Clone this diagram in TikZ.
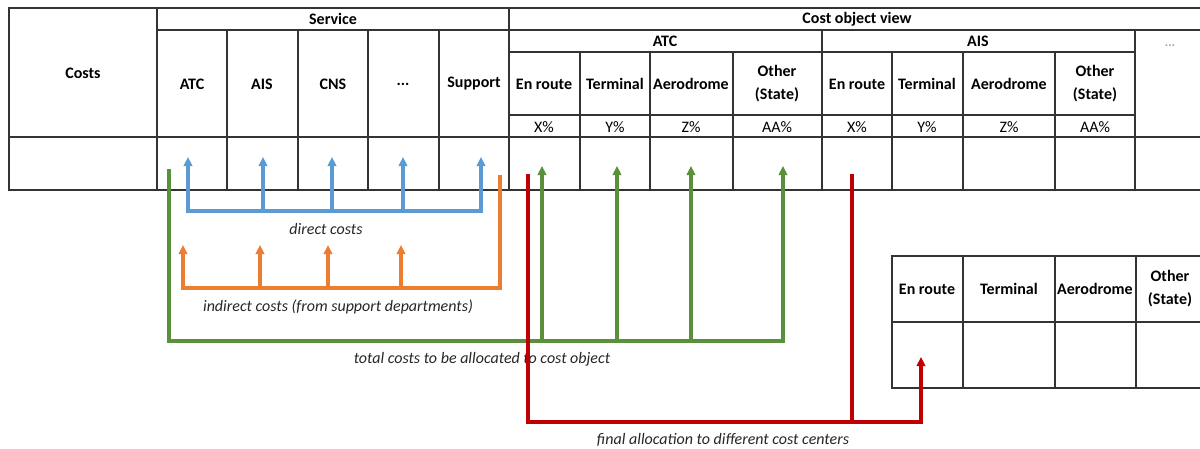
\documentclass[tikz,border=0pt]{standalone}
\usepackage{fontspec}
\setmainfont{Carlito}
\usetikzlibrary{arrows.meta}
\definecolor{gridc}{HTML}{333333}
\definecolor{blu}{HTML}{5B9BD5}
\definecolor{org}{HTML}{ED7D31}
\definecolor{grn}{HTML}{5A8F3C}
\definecolor{rd}{HTML}{C00000}
\begin{document}
\begin{tikzpicture}[x=1pt,y=-1pt,
 grid/.style={draw=gridc,line width=1.4pt,line cap=rect},
 hd/.style={font=\fontsize{16}{23}\selectfont\bfseries,text=black,align=center,inner sep=0},
 pct/.style={font=\fontsize{16}{19}\selectfont,text=black,inner sep=0},
 lbl/.style={font=\fontsize{16}{19}\selectfont\itshape,text=black!85,inner sep=0},
 flow/.style={line width=3.1pt,-{Triangle[length=9pt,width=8.5pt]}},
 plain/.style={line width=3.1pt}]
\useasboundingbox (0,0) rectangle (1200,448);
% main table
\draw[grid] (9,8) -- (1200,8);
\draw[grid] (157,30) -- (1200,30);
\draw[grid] (509,52) -- (1135,52);
\draw[grid] (509,115) -- (1135,115);
\draw[grid] (9,137) -- (1200,137);
\draw[grid] (9,190) -- (1200,190);
\foreach \x in {9,157,509} \draw[grid] (\x,8) -- (\x,190);
\foreach \x in {227,298,368,439,822,1135} \draw[grid] (\x,30) -- (\x,190);
\foreach \x in {580,650,733,892,963,1055} \draw[grid] (\x,52) -- (\x,190);
% small table
\foreach \y in {256,322,388} \draw[grid] (892,\y) -- (1200,\y);
\foreach \x in {892,963,1055,1136} \draw[grid] (\x,256) -- (\x,388);
% header texts
\node[hd] (costs) at (83,73) {Costs};
\node[hd] (service) at (333,19) {Service};
\node[hd] (sATC) at (192,84) {ATC};
\node[hd] (sAIS) at (262,84) {AIS};
\node[hd] (sCNS) at (333,84) {CNS};
\node[hd] (sDots) at (403,84) {...};
\node[hd] (sSup) at (474,84) {Support};
\node[hd] (cov) at (857,19) {Cost object view};
\node[hd] (cATC) at (665,41) {ATC};
\node[hd] (cAIS) at (978,41) {AIS};
\node[hd] (a1) at (544,84) {En route};
\node[hd] (a2) at (615,84) {Terminal};
\node[hd] (a3) at (691,84) {Aerodrome};
\node[hd] (a4) at (777,84) {Other\\(State)};
\node[hd] (b1) at (857,84) {En route};
\node[hd] (b2) at (927,84) {Terminal};
\node[hd] (b3) at (1009,84) {Aerodrome};
\node[hd] (b4) at (1095,84) {Other\\(State)};
\node[pct] (pa1) at (544,127) {X\%};
\node[pct] (pa2) at (615,127) {Y\%};
\node[pct] (pa3) at (691,127) {Z\%};
\node[pct] (pa4) at (777,127) {AA\%};
\node[pct] (pb1) at (857,127) {X\%};
\node[pct] (pb2) at (927,127) {Y\%};
\node[pct] (pb3) at (1009,127) {Z\%};
\node[pct] (pb4) at (1095,127) {AA\%};
\node[hd,text=gray!70,font=\fontsize{13}{15}\selectfont\bfseries] (cDots) at (1170,46) {...};
\node[hd] (d1) at (927,289) {En route};
\node[hd] (d2) at (1009,289) {Terminal};
\node[hd] (d3) at (1095,289) {Aerodrome};
\node[hd] (d4) at (1170,289) {Other\\(State)};
% labels
\node[lbl] (ldirect) at (326,229) {direct costs};
\node[lbl] (lindirect) at (338,307) {indirect costs (from support departments)};
\node[lbl] (ltotal) at (482,359) {total costs to be allocated to cost object};
\node[lbl] (lfinal) at (723,440) {final allocation to different cost centers};
% blue: direct costs
\foreach \i/\x in {1/188,2/263,3/332,4/403,5/481}{
  \coordinate (bt\i) at (\x,157);
  \coordinate (bb\i) at (\x,211);
}
\draw[flow,blu,{Triangle[length=9pt,width=8.5pt]}-{Triangle[length=9pt,width=8.5pt]}] (bt1) -- (bb1) -- (bb5) -- (bt5);
\foreach \i in {2,3,4} \draw[flow,blu] (bb\i) -- (bt\i);
% orange: indirect costs
\coordinate (os) at (500,175);
\coordinate (oc) at (500,288);
\foreach \i/\x in {1/183,2/260,3/328,4/401}{
  \coordinate (ot\i) at (\x,245);
  \coordinate (ob\i) at (\x,288);
}
\draw[flow,org] (os) -- (oc) -- (ob1) -- (ot1);
\foreach \i in {2,3,4} \draw[flow,org] (ob\i) -- (ot\i);
% green: total costs
\coordinate (gs) at (169,169);
\coordinate (gc) at (169,341);
\foreach \i/\x in {1/542,2/617,3/691,4/783}{
  \coordinate (gt\i) at (\x,166);
  \coordinate (gb\i) at (\x,341);
}
\draw[flow,grn] (gs) -- (gc) -- (gb4) -- (gt4);
\foreach \i in {1,2,3} \draw[flow,grn] (gb\i) -- (gt\i);
% red: final allocation
\coordinate (rs1) at (528,174);
\coordinate (rc1) at (528,422);
\coordinate (rs2) at (852,174);
\coordinate (rc2) at (852,422);
\coordinate (rc3) at (921,422);
\coordinate (rt) at (921,357);
\draw[flow,rd] (rs1) -- (rc1) -- (rc3) -- (rt);
\draw[plain,rd] (rs2) -- (rc2);
\end{tikzpicture}
\end{document}
